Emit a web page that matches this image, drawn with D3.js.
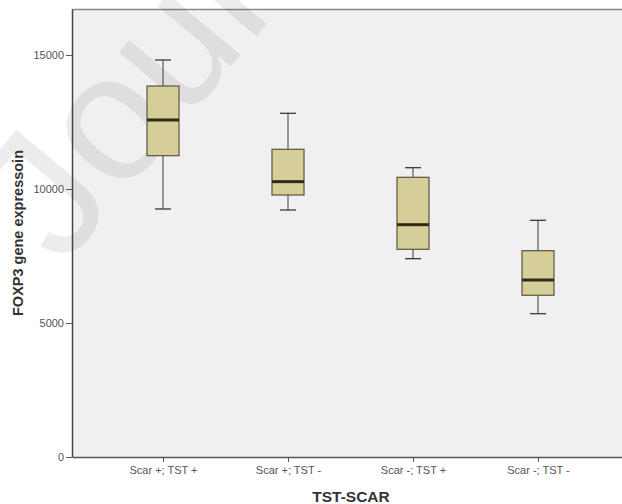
<!DOCTYPE html>
<html><head><meta charset="utf-8">
<script src="https://cdn.jsdelivr.net/npm/d3@7"></script>
<style>body{margin:0;background:#fff;}svg{display:block;}</style>
</head><body>
<svg id="c" width="622" height="504"></svg>
<script>
const categories = ["Scar +; TST +", "Scar +; TST -", "Scar -; TST +", "Scar -; TST -"];
const whiskerLow  = [9254, 9216, 7400, 5347];
const q1          = [11243, 9776, 7750, 6034];
const median      = [12575, 10274, 8668, 6604];
const q3          = [13843, 11481, 10436, 7698];
const whiskerHigh = [14813, 12825, 10795, 8831];
const yTicks = [0, 5000, 10000, 15000];

const svg = d3.select("#c");
const L = 72, T = 9, B = 457, R = 629;
const FONT = "Liberation Sans, Arial, sans-serif";

const x = d3.scalePoint().domain(categories).range([L, R]).padding(0.728);
const y = d3.scaleLinear().domain([0, 16716]).range([B, T]);

// plot background
svg.append("rect").attr("x", L).attr("y", T).attr("width", R - L).attr("height", B - T).attr("fill", "#f0f0f0");
svg.append("line").attr("x1", L).attr("x2", R).attr("y1", T + 0.5).attr("y2", T + 0.5).attr("stroke", "#8a8a8a").attr("stroke-width", 1.5);

// watermark
svg.append("text").attr("transform", "translate(62,268) rotate(-50)")
  .attr("font-family", FONT).attr("font-size", 180)
  .attr("fill", "#000").attr("fill-opacity", 0.075).text("Journal Pre-proof");

const data = categories.map((c, i) => ({c, lo: whiskerLow[i], q1: q1[i], med: median[i], q3: q3[i], hi: whiskerHigh[i]}));
const bw = 32, cw = 16;
const g = svg.append("g").selectAll("g").data(data).join("g");
g.append("line").attr("x1", d => x(d.c)).attr("x2", d => x(d.c)).attr("y1", d => y(d.lo)).attr("y2", d => y(d.hi)).attr("stroke", "#3a3a3a");
g.append("line").attr("x1", d => x(d.c) - cw/2).attr("x2", d => x(d.c) + cw/2).attr("y1", d => y(d.hi)).attr("y2", d => y(d.hi)).attr("stroke", "#3a3a3a").attr("stroke-width", 1.3);
g.append("line").attr("x1", d => x(d.c) - cw/2).attr("x2", d => x(d.c) + cw/2).attr("y1", d => y(d.lo)).attr("y2", d => y(d.lo)).attr("stroke", "#3a3a3a").attr("stroke-width", 1.3);
g.append("rect").attr("x", d => x(d.c) - bw/2).attr("width", bw).attr("y", d => y(d.q3)).attr("height", d => y(d.q1) - y(d.q3))
  .attr("fill", "#d5ce99").attr("stroke", "#5a5640").attr("stroke-width", 1.2);
g.append("line").attr("x1", d => x(d.c) - bw/2).attr("x2", d => x(d.c) + bw/2).attr("y1", d => y(d.med)).attr("y2", d => y(d.med)).attr("stroke", "#2e2a16").attr("stroke-width", 3);

// axes
const ya = svg.append("g").attr("transform", `translate(${L},0)`)
  .call(d3.axisLeft(y).tickValues(yTicks).tickFormat(d3.format("d")).tickSize(6).tickSizeOuter(0).tickPadding(2));
ya.select(".domain").attr("stroke", "#444").attr("stroke-width", 1.5);
ya.selectAll(".tick line").attr("stroke", "#555");
ya.selectAll(".tick text").attr("font-family", FONT).attr("font-size", 11).attr("fill", "#555");

const xa = svg.append("g").attr("transform", `translate(0,${B})`)
  .call(d3.axisBottom(x).tickSize(5).tickSizeOuter(0).tickPadding(4));
xa.select(".domain").attr("stroke", "#555").attr("stroke-width", 1.5);
xa.selectAll(".tick line").attr("stroke", "#555");
xa.selectAll(".tick text").attr("font-family", FONT).attr("font-size", 11).attr("fill", "#555");

svg.append("text").attr("x", 351).attr("y", 502).attr("text-anchor", "middle")
  .attr("font-family", FONT).attr("font-weight", "bold").attr("font-size", 15.5).attr("fill", "#333").text("TST-SCAR");
svg.append("text").attr("transform", "translate(23,233) rotate(-90)").attr("text-anchor", "middle")
  .attr("font-family", FONT).attr("font-weight", "bold").attr("font-size", 14.5).attr("fill", "#333").text("FOXP3 gene expressoin");
</script>
</body></html>
